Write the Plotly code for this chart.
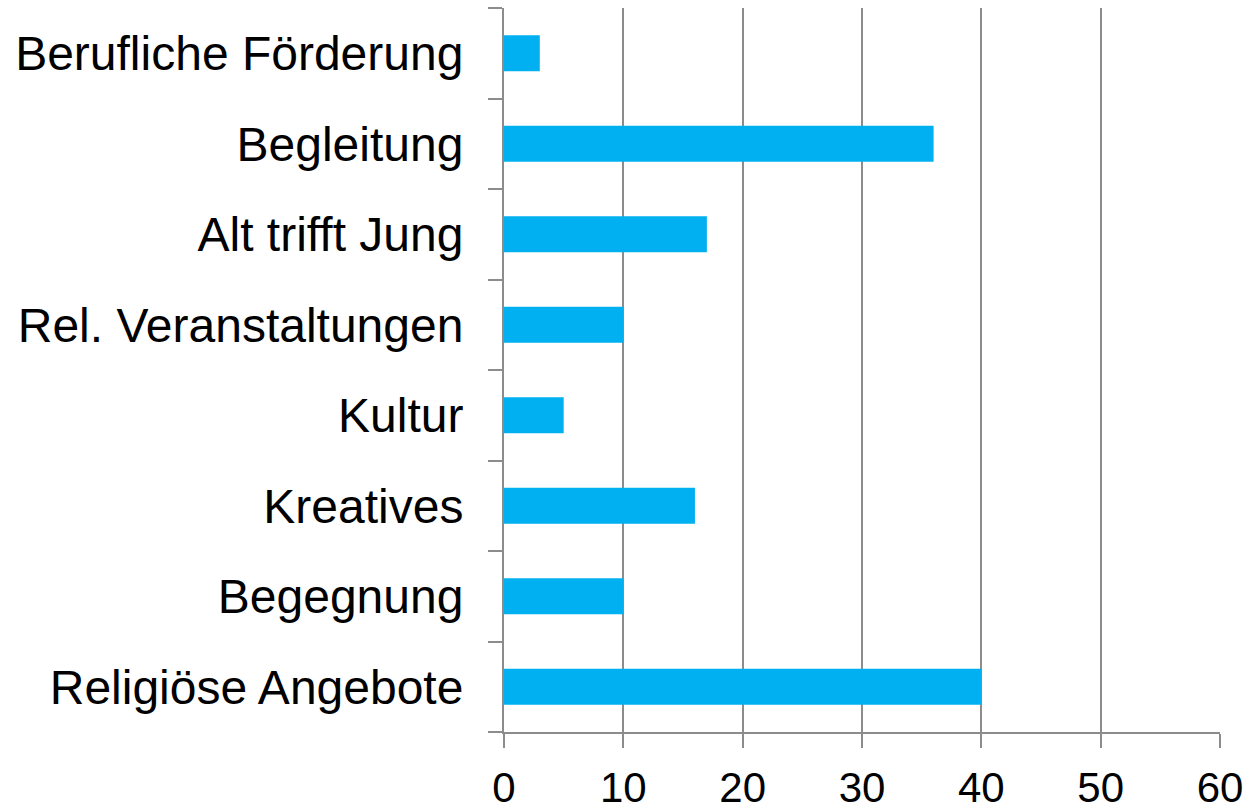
import plotly.graph_objects as go

## DATA
categories = ["Religiöse Angebote", "Begegnung", "Kreatives", "Kultur",
              "Rel. Veranstaltungen", "Alt trifft Jung", "Begleitung",
              "Berufliche Förderung"]
values = [40, 10, 16, 5, 10, 17, 36, 3]
x_ticks = [0, 10, 20, 30, 40, 50, 60]

GRAY = "#8c8c8c"

fig = go.Figure(go.Bar(
    x=values, y=categories, orientation="h",
    marker=dict(color="#00B0F0", line=dict(width=0)),
    width=0.4,
))

fig.update_layout(
    width=1252, height=811,
    margin=dict(l=504, r=32, t=8, b=79),
    plot_bgcolor="white", paper_bgcolor="white",
    font=dict(family="Liberation Sans, Arial", color="black"),
    showlegend=False,
)

fig.update_xaxes(
    range=[0, 60], tickvals=x_ticks, automargin=False,
    showgrid=True, gridcolor=GRAY, gridwidth=2,
    showline=True, linecolor=GRAY, linewidth=2,
    ticks="outside", ticklen=14, tickcolor=GRAY, tickwidth=2,
    tickfont=dict(size=42), zeroline=False, ticklabelstandoff=4,
)

fig.update_yaxes(
    categoryorder="array", categoryarray=categories, automargin=False,
    showgrid=False, showline=True, linecolor=GRAY, linewidth=2,
    ticks="outside", tickson="boundaries", ticklen=14, tickcolor=GRAY, tickwidth=2,
    tickfont=dict(size=48), ticklabelstandoff=29,
)

# browser default body margin shifts the plot by 8px, drop it
fig.write_html("out.html", config={"displayModeBar": False},
               post_script="document.body.style.margin='0';")
